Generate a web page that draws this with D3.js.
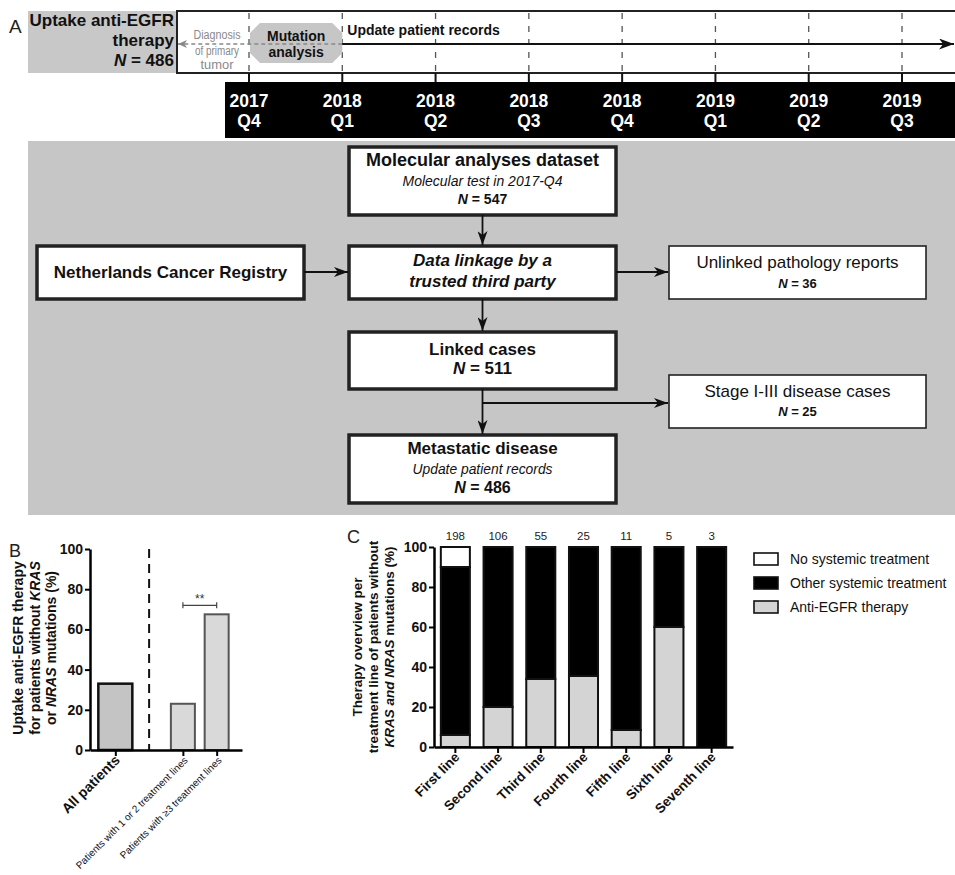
<!DOCTYPE html>
<html><head><meta charset="utf-8">
<script src="https://cdn.jsdelivr.net/npm/d3@7/dist/d3.min.js"></script>
<style>
body{margin:0;background:#fff;}
svg{display:block;font-family:"Liberation Sans",Arial,Helvetica,sans-serif;}
</style></head><body>
<svg width="955" height="875"></svg>
<script>
// ---------------- DATA ----------------
const quarterYears = ["2017","2018","2018","2018","2018","2019","2019","2019"];
const quarterNames = ["Q4","Q1","Q2","Q3","Q4","Q1","Q2","Q3"];
const uptakeTitle = ["Uptake anti-EGFR", "therapy"];
const uptakeN = 486;
const diagnosisLines = ["Diagnosis", "of primary", "tumor"];
const mutationLines = ["Mutation", "analysis"];
const updateLabel = "Update patient records";

const flowTitles = [
  ["Molecular analyses dataset"],
  ["Data linkage by a", "trusted third party"],
  ["Netherlands Cancer Registry"],
  ["Unlinked pathology reports"],
  ["Linked cases"],
  ["Stage I-III disease cases"],
  ["Metastatic disease"]
];
const flowSubtitles = ["Molecular test in 2017-Q4", "", "", "", "", "", "Update patient records"];
const flowCounts = [547, null, null, 36, 511, 25, 486];

const bCategories = ["All patients", "Patients with 1 or 2 treatment lines", "Patients with \u22653 treatment lines"];
const bValues = [33, 23, 67.5];
const bTicks = [0, 20, 40, 60, 80, 100];
const bSignificance = "**";
const bSignificanceLevel = 72;

const cLines = ["First line", "Second line", "Third line", "Fourth line", "Fifth line", "Sixth line", "Seventh line"];
const cAntiEGFR = [6, 20, 34, 35.5, 8.5, 60, 0];
const cOther = [84, 80, 66, 64.5, 91.5, 40, 100];
const cNone = [10, 0, 0, 0, 0, 0, 0];
const cCounts = [198, 106, 55, 25, 11, 5, 3];
const cTicks = [0, 20, 40, 60, 80, 100];
const cLegend = ["No systemic treatment", "Other systemic treatment", "Anti-EGFR therapy"];

// ---------------- SETUP ----------------
const svg = d3.select("svg");
const defs = svg.append("defs");
function marker(id, color, w, h) {
  defs.append("marker").attr("id", id)
    .attr("viewBox", `0 0 ${w} ${h}`).attr("refX", w).attr("refY", h / 2)
    .attr("markerWidth", w).attr("markerHeight", h)
    .attr("markerUnits", "userSpaceOnUse").attr("orient", "auto")
    .append("path").attr("d", `M0,0 L${w},${h / 2} L0,${h} L${w * 0.28},${h / 2} Z`).attr("fill", color);
}
marker("arrB", "#111", 14, 10);
marker("arrBig", "#111", 15, 11);
marker("arrG", "#888", 9, 8);

function addText(g, x, y, parts, opts) {
  const t = g.append("text").attr("x", x).attr("y", y)
    .attr("text-anchor", opts.anchor || "middle")
    .attr("font-size", opts.size).attr("font-weight", opts.weight || "normal")
    .attr("font-style", opts.style || "normal")
    .attr("fill", opts.fill || "#111");
  if (opts.transform) t.attr("transform", opts.transform);
  parts.forEach(p => {
    const s = typeof p === "string" ? { t: p } : p;
    t.append("tspan").text(s.t).attr("font-style", s.i ? "italic" : null);
  });
  return t;
}
function nParts(n) { return [{ t: "N", i: true }, " = " + n]; }

// ---------------- PANEL A: TIMELINE ----------------
const gA = svg.append("g");
addText(gA, 9, 33, ["A"], { size: 19, anchor: "start", fill: "#222" });
const xT = d3.scaleLinear().domain([0, quarterNames.length - 1]).range([249, 902]);
const tTop = 11, tBot = 73, lineY = 44;

gA.append("rect").attr("x", 28).attr("y", tTop).attr("width", 149).attr("height", tBot - tTop).attr("fill", "#c8c8c8");
gA.append("rect").attr("x", 177).attr("y", tTop).attr("width", 800).attr("height", tBot - tTop)
  .attr("fill", "#fff").attr("stroke", "#222").attr("stroke-width", 2);

addText(gA, 174, 26, [uptakeTitle[0]], { size: 17, weight: "bold", anchor: "end" });
addText(gA, 174, 46, [uptakeTitle[1]], { size: 17, weight: "bold", anchor: "end" });
addText(gA, 174, 66, nParts(uptakeN), { size: 17, weight: "bold", anchor: "end" });

// dashed quarter lines
gA.selectAll(".qd").data(quarterNames).enter().append("line")
  .attr("x1", (d, i) => xT(i)).attr("x2", (d, i) => xT(i))
  .attr("y1", tTop + 2).attr("y2", tBot - 1)
  .attr("stroke", "#555").attr("stroke-width", 1.3).attr("stroke-dasharray", "6,7");

// mutation analysis octagon
const ox0 = xT(0) + 1, ox1 = xT(1), oy0 = 23, oy1 = 63, c = 10;
gA.append("polygon").attr("points", [
  [ox0 + c, oy0], [ox1 - c, oy0], [ox1, oy0 + c], [ox1, oy1 - c], [ox1 - c, oy1], [ox0 + c, oy1], [ox0, oy1 - c], [ox0, oy0 + c]
].map(p => p.join(",")).join(" ")).attr("fill", "#c6c6c6");
addText(gA, (ox0 + ox1) / 2, 41, [mutationLines[0]], { size: 14, weight: "bold" });
addText(gA, (ox0 + ox1) / 2, 57, [mutationLines[1]], { size: 14, weight: "bold" });

// diagnosis text (grey)
diagnosisLines.forEach((l, i) => addText(gA, 217, [39, 55, 69][i], [l], { size: 12.5, fill: "#8a8a8a" })
  .attr("textLength", [47, 44, 33][i]).attr("lengthAdjust", "spacingAndGlyphs"));

// grey dashed arrow back to diagnosis
gA.append("line").attr("x1", xT(1)).attr("x2", 178).attr("y1", lineY).attr("y2", lineY)
  .attr("stroke", "#888").attr("stroke-width", 1.6).attr("stroke-dasharray", "4,3").attr("marker-end", "url(#arrG)");
// update patient records arrow
gA.append("line").attr("x1", xT(1)).attr("x2", 954).attr("y1", lineY).attr("y2", lineY)
  .attr("stroke", "#111").attr("stroke-width", 1.8).attr("marker-end", "url(#arrBig)");
addText(gA, xT(1) + 5, 35, [updateLabel], { size: 14, weight: "bold", anchor: "start" });

// black quarter bar
const barTop = 82;
gA.append("rect").attr("x", 225).attr("y", barTop).attr("width", 740).attr("height", 56).attr("fill", "#000");
gA.selectAll(".qt").data(quarterNames).enter().append("line")
  .attr("x1", (d, i) => xT(i)).attr("x2", (d, i) => xT(i))
  .attr("y1", tBot).attr("y2", barTop).attr("stroke", "#111").attr("stroke-width", 2);
quarterNames.forEach((q, i) => {
  addText(gA, xT(i), 107, [quarterYears[i]], { size: 17.5, weight: "bold", fill: "#fff" });
  addText(gA, xT(i), 127, [q], { size: 17.5, weight: "bold", fill: "#fff" });
});

// ---------------- FLOWCHART ----------------
const gF = svg.append("g");
gF.append("rect").attr("x", 28).attr("y", 141).attr("width", 940).attr("height", 374).attr("fill", "#c6c6c6");

const colX = 349, colW = 267, sideX = 669, sideW = 257;
const boxes = [
  { x: colX, y: 147, w: colW, h: 68, thick: true },
  { x: colX, y: 246, w: colW, h: 53, thick: true },
  { x: 37, y: 246, w: 267, h: 53, thick: true },
  { x: sideX, y: 246, w: sideW, h: 53, thick: false },
  { x: colX, y: 332, w: colW, h: 57, thick: true },
  { x: sideX, y: 375, w: sideW, h: 53, thick: false },
  { x: colX, y: 435, w: colW, h: 68, thick: true }
];
boxes.forEach(b => {
  gF.append("rect").attr("x", b.x).attr("y", b.y).attr("width", b.w).attr("height", b.h)
    .attr("fill", "#fff").attr("stroke", "#222").attr("stroke-width", b.thick ? 3.5 : 1.6);
});
const cx = i => boxes[i].x + boxes[i].w / 2;
// 0 molecular
addText(gF, cx(0), 166, flowTitles[0], { size: 18, weight: "bold" });
addText(gF, cx(0), 186, [flowSubtitles[0]], { size: 14.5, style: "italic" }).attr("textLength", 160).attr("lengthAdjust", "spacingAndGlyphs");
addText(gF, cx(0), 204, nParts(flowCounts[0]), { size: 14, weight: "bold" });
// 1 data linkage
addText(gF, cx(1), 266, [flowTitles[1][0]], { size: 17, weight: "bold", style: "italic" });
addText(gF, cx(1), 287, [flowTitles[1][1]], { size: 17, weight: "bold", style: "italic" });
// 2 NCR
addText(gF, cx(2), 278, flowTitles[2], { size: 17, weight: "bold" });
// 3 unlinked
addText(gF, cx(3), 268, flowTitles[3], { size: 17 });
addText(gF, cx(3), 288, nParts(flowCounts[3]), { size: 13, weight: "bold" });
// 4 linked
addText(gF, cx(4), 355, flowTitles[4], { size: 17, weight: "bold" });
addText(gF, cx(4), 374, nParts(flowCounts[4]), { size: 17, weight: "bold" });
// 5 stage
addText(gF, cx(5), 397, flowTitles[5], { size: 17 });
addText(gF, cx(5), 416, nParts(flowCounts[5]), { size: 13, weight: "bold" });
// 6 metastatic
addText(gF, cx(6), 454, flowTitles[6], { size: 17, weight: "bold" });
addText(gF, cx(6), 474, [flowSubtitles[6]], { size: 15, style: "italic" }).attr("textLength", 140).attr("lengthAdjust", "spacingAndGlyphs");
addText(gF, cx(6), 493, nParts(flowCounts[6]), { size: 16, weight: "bold" });

function arrow(x1, y1, x2, y2) {
  gF.append("line").attr("x1", x1).attr("y1", y1).attr("x2", x2).attr("y2", y2)
    .attr("stroke", "#111").attr("stroke-width", 1.8).attr("marker-end", "url(#arrB)");
}
const mid = cx(0);
arrow(mid, 215, mid, 245);
arrow(304, 272, 348, 272);
arrow(616, 272, 668, 272);
arrow(mid, 299, mid, 331);
arrow(mid, 389, mid, 434);
arrow(mid, 403, 668, 403);

// ---------------- PANEL B ----------------
const gB = svg.append("g");
addText(gB, 9, 557, ["B"], { size: 18, anchor: "start", fill: "#222" });
const yB = d3.scaleLinear().domain([0, 100]).range([750, 549]);
const sep = "sep";
const xB = d3.scalePoint().domain([bCategories[0], sep, bCategories[1], bCategories[2]]).range([90, 242]).padding(0.75);
const bWidths = [34, 24, 24];
const bFills = ["#c4c4c4", "#d9d9d9", "#d9d9d9"];
const bStrokes = ["#111", "#555", "#555"];
gB.selectAll(".bb").data(bCategories).enter().append("rect")
  .attr("x", (d, i) => xB(d) - bWidths[i] / 2).attr("width", (d, i) => bWidths[i])
  .attr("y", (d, i) => yB(bValues[i])).attr("height", (d, i) => yB(0) - yB(bValues[i]))
  .attr("fill", (d, i) => bFills[i]).attr("stroke", (d, i) => bStrokes[i]).attr("stroke-width", (d, i) => i ? 2 : 2.5);
gB.append("line").attr("x1", xB(sep)).attr("x2", xB(sep)).attr("y1", yB(100)).attr("y2", yB(0))
  .attr("stroke", "#111").attr("stroke-width", 2).attr("stroke-dasharray", "9,6");
// significance
const sy = yB(bSignificanceLevel), sx1 = xB(bCategories[1]), sx2 = xB(bCategories[2]);
gB.append("path").attr("d", `M${sx1},${sy - 3}V${sy + 3}M${sx1},${sy}H${sx2}M${sx2},${sy - 3}V${sy + 3}`)
  .attr("stroke", "#444").attr("stroke-width", 1.2).attr("fill", "none");
addText(gB, (sx1 + sx2) / 2, sy - 2, [bSignificance], { size: 12, fill: "#333" });

const axB = gB.append("g").attr("transform", `translate(90,0)`)
  .call(d3.axisLeft(yB).tickValues(bTicks).tickSize(5).tickSizeOuter(0));
axB.select(".domain").attr("stroke-width", 2.5);
axB.selectAll(".tick line").attr("stroke-width", 2);
axB.selectAll(".tick text").attr("font-size", 14).attr("font-weight", "bold").attr("fill", "#111")
  .attr("font-family", "Liberation Sans, Arial, sans-serif").attr("x", -7);
const axBx = gB.append("g").attr("transform", `translate(0,${yB(0)})`)
  .call(d3.axisBottom(xB).tickValues(bCategories).tickSize(6).tickSizeOuter(0));
axBx.select(".domain").attr("stroke-width", 2.5);
axBx.selectAll(".tick line").attr("stroke-width", 2);
axBx.selectAll(".tick text").attr("font-family", "Liberation Sans, Arial, sans-serif").attr("fill", "#111")
  .attr("x", 0).attr("y", 0).attr("dy", null).attr("text-anchor", "end")
  .attr("transform", "translate(5,11) rotate(-45)")
  .attr("font-size", (d, i) => i ? 10 : 14).attr("font-weight", (d, i) => i ? "normal" : "bold");

const bLab = [["Uptake anti-EGFR therapy"], ["for patients without ", { t: "KRAS", i: true }], ["or ", { t: "NRAS", i: true }, " mutations (%)"]];
bLab.forEach((parts, i) => addText(gB, 0, 0, parts, { size: 14, weight: "bold", transform: `translate(${23 + i * 16.5},648) rotate(-90)` }));

// ---------------- PANEL C ----------------
const gC = svg.append("g");
addText(gC, 347, 543, ["C"], { size: 18, anchor: "start", fill: "#222" });
const yC = d3.scaleLinear().domain([0, 100]).range([747, 547]);
const xC = d3.scaleBand().domain(cLines).range([434, 733]).paddingInner(0.32).paddingOuter(0.16);
const stackRows = cLines.map((l, i) => ({ line: l, anti: cAntiEGFR[i], other: cOther[i], none: cNone[i] }));
const series = d3.stack().keys(["anti", "other", "none"])(stackRows);
const cFill = { anti: "#d4d4d4", other: "#000", none: "#fff" };
series.forEach(s => {
  gC.selectAll(".s" + s.key).data(s.filter(d => d[1] - d[0] > 0)).enter().append("rect")
    .attr("x", d => xC(d.data.line)).attr("width", xC.bandwidth())
    .attr("y", d => yC(d[1])).attr("height", d => yC(d[0]) - yC(d[1]))
    .attr("fill", cFill[s.key]).attr("stroke", "#111").attr("stroke-width", 2);
});
cLines.forEach((l, i) => addText(gC, xC(l) + xC.bandwidth() / 2, 540, [String(cCounts[i])], { size: 11.5, fill: "#222" }));

const axC = gC.append("g").attr("transform", `translate(434,0)`)
  .call(d3.axisLeft(yC).tickValues(cTicks).tickSize(5).tickSizeOuter(0));
axC.select(".domain").attr("stroke-width", 2.5);
axC.selectAll(".tick line").attr("stroke-width", 2);
axC.selectAll(".tick text").attr("font-size", 14).attr("font-weight", "bold").attr("fill", "#111")
  .attr("font-family", "Liberation Sans, Arial, sans-serif").attr("x", -7);
const axCx = gC.append("g").attr("transform", `translate(0,${yC(0)})`)
  .call(d3.axisBottom(xC).tickSize(6).tickSizeOuter(0));
axCx.select(".domain").attr("stroke-width", 2.5);
axCx.selectAll(".tick line").attr("stroke-width", 2);
axCx.selectAll(".tick text").attr("font-family", "Liberation Sans, Arial, sans-serif").attr("fill", "#111")
  .attr("x", 0).attr("y", 0).attr("dy", null).attr("text-anchor", "end")
  .attr("transform", "translate(5,11) rotate(-45)")
  .attr("font-size", 13.5).attr("font-weight", "bold");

const cLab = [["Therapy overview per"], ["treatment line of patients without"], [{ t: "KRAS and NRAS", i: true }, " mutations (%)"]];
cLab.forEach((parts, i) => addText(gC, 0, 0, parts, { size: 13.5, weight: "bold", transform: `translate(${362 + i * 16},647) rotate(-90)` }));

// legend
const legKeys = ["none", "other", "anti"];
cLegend.forEach((l, i) => {
  gC.append("rect").attr("x", 754).attr("y", 553 + i * 24).attr("width", 24).attr("height", 12)
    .attr("fill", cFill[legKeys[i]]).attr("stroke", "#111").attr("stroke-width", 1.6);
  addText(gC, 790, 564 + i * 24, [l], { size: 14, anchor: "start", fill: "#111" });
});
</script>
</body></html>
